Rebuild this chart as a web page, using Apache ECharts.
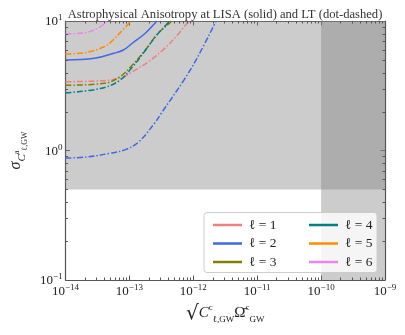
<!DOCTYPE html>
<html>
<head>
<meta charset="utf-8">
<script src="https://cdn.jsdelivr.net/npm/echarts@6/dist/echarts.min.js"></script>
<style>
  html, body { margin: 0; padding: 0; background: #fff; }
  #main { width: 405px; height: 335px; }
</style>
</head>
<body>
<div id="main"></div>
<script>
// values (x = sqrt(C) * Omega, y = sigma)
// LT (dot-dashed)
const lt1X = [1e-14, 2.84e-14, 7.02e-14, 1.114e-13, 1.99e-13, 3.56e-13, 5.65e-13, 8.49e-13];
const lt1Y = [3.40, 3.44, 3.61, 4.06, 4.85, 6.15, 7.80, 10];
const lt2X = [1e-14, 2.07e-14, 4.95e-14, 8.85e-14, 1.41e-13, 2.51e-13, 3.16e-13, 7.13e-13, 1.13e-12, 2.27e-12];
const lt2Y = [0.875, 0.89, 0.951, 1.02, 1.17, 1.64, 1.94, 3.50, 5.1, 10];
const lt3X = [1e-14, 4.02e-14, 7.02e-14, 1.114e-13, 1.774e-13, 2.82e-13, 4.24e-13, 4.51e-13];
const lt3Y = [3.19, 3.30, 3.70, 4.57, 5.97, 8.04, 9.6, 10];
const lt4X = [1e-14, 3.5e-14, 7.02e-14, 1.114e-13, 1.774e-13, 2.65e-13, 3.99e-13, 4.1e-13];
const lt4Y = [2.79, 3.01, 3.47, 4.41, 5.92, 7.73, 9.66, 10];
const lt5X = [1e-14, 2.0e-14, 4.02e-14, 5.56e-14, 7.87e-14, 1.054e-13];
const lt5Y = [5.56, 5.69, 6.33, 7.13, 8.52, 10];
const lt6X = [1e-14, 2.0e-14, 3.5e-14, 4.39e-14];
const lt6Y = [7.94, 8.12, 9.0, 10];
// LISA (solid), only l=2 is inside the plotted range
const lisa2X = [1e-14, 2.84e-14, 5.69e-14, 8.05e-14, 1.114e-13, 1.774e-13, 2.51e-13, 2.68e-13];
const lisa2Y = [5.00, 5.15, 5.63, 5.97, 6.73, 8.04, 9.6, 10];

const names = ['ℓ = 1', 'ℓ = 2', 'ℓ = 3', 'ℓ = 4', 'ℓ = 5', 'ℓ = 6'];
const colors = ['#F08080', '#4169E1', '#808000', '#008080', '#FF8C00', '#EE82EE'];

// axis ticks
const xTickExp = [-14, -13, -12, -11, -10, -9];
const yTickExp = [-1, 0, 1];
const minorMult = [2, 3, 4, 5, 6, 7, 8, 9];

// shaded regions
const shadeY = 0.5;
const shadeX = 1e-10;

const chart = echarts.init(document.getElementById('main'));

function pairs(xs, ys) {
  return xs.map((x, i) => [x, ys[i]]);
}

function expLabel(v) {
  const e = Math.round(Math.log10(v));
  return '{b|10}{s|' + (e < 0 ? '−' + (-e) : e) + '}';
}

const serif = 'Liberation Serif';
const labelRich = {
  b: { fontFamily: serif, fontSize: 13, color: '#222', verticalAlign: 'bottom' },
  s: { fontFamily: serif, fontSize: 9, color: '#222', verticalAlign: 'bottom', padding: [0, 0, 6, 0] }
};

// minor tick list
const minorTicks = [];
xTickExp.slice(0, -1).forEach(e => {
  minorMult.forEach(m => minorTicks.push([m * Math.pow(10, e), 1, 0]));
});
yTickExp.slice(0, -1).forEach(e => {
  minorMult.forEach(m => minorTicks.push([1e-12, m * Math.pow(10, e), 1]));
});

const ltData = [[lt1X, lt1Y], [lt2X, lt2Y], [lt3X, lt3Y], [lt4X, lt4Y], [lt5X, lt5Y], [lt6X, lt6Y]];

const series = [];
// shading
series.push({
  type: 'line',
  data: [],
  silent: true,
  markArea: {
    silent: true,
    itemStyle: { color: 'rgba(128,128,128,0.4)' },
    data: [
      [{ coord: [1e-14, shadeY] }, { coord: [1e-9, 10] }],
      [{ coord: [shadeX, 0.1] }, { coord: [1e-9, 10] }]
    ]
  }
});
ltData.forEach((d, i) => {
  series.push({
    name: names[i],
    type: 'line',
    data: pairs(d[0], d[1]),
    showSymbol: false,
    smooth: 0.4,
    color: colors[i],
    lineStyle: { width: 1.5, type: [6, 2, 1.5, 2], color: colors[i] },
    z: 3
  });
});
series.push({
  name: names[1],
  type: 'line',
  data: pairs(lisa2X, lisa2Y),
  showSymbol: false,
  smooth: 0.4,
  color: colors[1],
  lineStyle: { width: 1.5, color: colors[1] },
  z: 3
});
// minor ticks
series.push({
  type: 'custom',
  silent: true,
  data: minorTicks,
  encode: { x: 0, y: 1 },
  renderItem: function (params, api) {
    const cs = params.coordSys;
    const st = { stroke: '#555', lineWidth: 1 };
    if (api.value(2) === 0) {
      const px = Math.round(api.coord([api.value(0), 1])[0]) + 0.5;
      return { type: 'group', children: [
        { type: 'line', shape: { x1: px, y1: cs.y + cs.height, x2: px, y2: cs.y + cs.height - 2.5 }, style: st },
        { type: 'line', shape: { x1: px, y1: cs.y, x2: px, y2: cs.y + 2.5 }, style: st }
      ] };
    }
    const py = Math.round(api.coord([1e-12, api.value(1)])[1]) + 0.5;
    return { type: 'group', children: [
      { type: 'line', shape: { x1: cs.x, y1: py, x2: cs.x + 2.5, y2: py }, style: st },
      { type: 'line', shape: { x1: cs.x + cs.width, y1: py, x2: cs.x + cs.width - 2.5, y2: py }, style: st }
    ] };
  },
  z: 5
});

const axisLine = { show: true, lineStyle: { color: '#555', width: 1.2 } };
const axisTick = { show: true, inside: true, length: 4.5, lineStyle: { color: '#555', width: 1 } };

const legendCommon = {
  orient: 'vertical',
  icon: 'rect',
  itemWidth: 29,
  itemHeight: 2.5,
  itemGap: 4.5,
  z: 110,
  selectedMode: false,
  textStyle: { fontFamily: serif, fontSize: 13.5, color: '#222', padding: [0, 0, 0, 2] }
};

const option = {
  animation: false,
  title: {
    text: 'Astrophysical Anisotropy at LISA (solid) and LT (dot-dashed)',
    left: 220,
    textAlign: 'center',
    top: 3,
    textStyle: { fontFamily: serif, fontSize: 12.6, fontWeight: 'normal', color: '#333' }
  },
  grid: { left: 54, right: 20, top: 21, bottom: 55 },
  xAxis: [{
    type: 'log',
    min: 1e-14,
    max: 1e-9,
    splitNumber: 5,
    axisLine: axisLine,
    axisTick: axisTick,
    splitLine: { show: false },
    axisLabel: { formatter: expLabel, rich: labelRich, margin: 3, showMinLabel: true, showMaxLabel: true },
    name: '{r|√}{c|C}{sp|c}{sb|ℓ,GW}{o|Ω̄}{sp|c}{sb|GW}',
    nameLocation: 'middle',
    nameGap: 22,
    nameTextStyle: {
      rich: {
        r: { fontFamily: 'DejaVu Serif', fontSize: 20, color: '#222', verticalAlign: 'bottom', padding: [0, 0, 0, 0] },
        c: { fontFamily: serif, fontSize: 15, fontStyle: 'italic', color: '#222', verticalAlign: 'bottom', padding: [0, 0, 3, 0] },
        o: { fontFamily: serif, fontSize: 15, color: '#222', verticalAlign: 'bottom', padding: [0, 0, 3, 0] },
        sp: { fontFamily: serif, fontSize: 9, color: '#222', verticalAlign: 'bottom', padding: [0, 0, 12, 0] },
        sb: { fontFamily: serif, fontSize: 9, color: '#222', verticalAlign: 'bottom', padding: [0, 0, 0, 0] }
      }
    }
  }, {
    type: 'log',
    position: 'top',
    min: 1e-14,
    max: 1e-9,
    splitNumber: 5,
    axisLine: axisLine,
    axisTick: axisTick,
    splitLine: { show: false },
    axisLabel: { show: false }
  }],
  yAxis: [{
    type: 'log',
    min: 0.1,
    max: 10,
    splitNumber: 2,
    axisLine: axisLine,
    axisTick: axisTick,
    splitLine: { show: false },
    axisLabel: { formatter: expLabel, rich: labelRich, margin: 3, showMinLabel: true, showMaxLabel: true },
    name: '{g|σ}{c|C}{sp|a}{sb|ℓ,GW}',
    nameLocation: 'middle',
    nameRotate: 90,
    nameGap: 33,
    nameTextStyle: {
      rich: {
        g: { fontFamily: serif, fontSize: 16, fontStyle: 'italic', color: '#222', verticalAlign: 'bottom', padding: [0, 0, 5, 0] },
        c: { fontFamily: serif, fontSize: 11, fontStyle: 'italic', color: '#222', verticalAlign: 'bottom', padding: [0, 0, 1, 0] },
        sp: { fontFamily: serif, fontSize: 8, color: '#222', verticalAlign: 'bottom', padding: [0, 0, 8, 0] },
        sb: { fontFamily: serif, fontSize: 8, color: '#222', verticalAlign: 'bottom', padding: [0, 0, 0, 0] }
      }
    }
  }, {
    type: 'log',
    position: 'right',
    min: 0.1,
    max: 10,
    splitNumber: 2,
    axisLine: axisLine,
    axisTick: axisTick,
    splitLine: { show: false },
    axisLabel: { show: false }
  }],
  legend: [
    Object.assign({ left: 208, top: 213, data: names.slice(0, 3) }, legendCommon),
    Object.assign({ left: 304, top: 213, data: names.slice(3) }, legendCommon)
  ],
  graphic: [{
    type: 'rect',
    z: 100,
    shape: { x: 204, y: 212.5, width: 173, height: 60, r: 3 },
    style: { fill: 'rgba(255,255,255,0.8)', stroke: '#cccccc', lineWidth: 1 }
  }],
  series: series
};

chart.setOption(option);
</script>
</body>
</html>
